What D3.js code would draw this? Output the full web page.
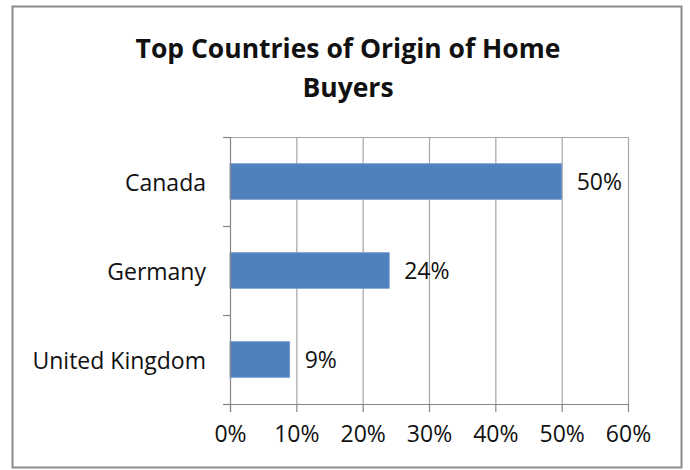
<!DOCTYPE html>
<html>
<head>
<meta charset="utf-8">
<script src="https://cdn.jsdelivr.net/npm/d3@7"></script>
<style>
  body { margin: 0; background: #fff; }
  text { font-family: "Open Sans", "Noto Sans", sans-serif; fill: #111; }
</style>
</head>
<body>
<div id="chart"></div>
<script>
// data
var countries = ['Canada', 'Germany', 'United Kingdom'];
var shares = [0.50, 0.24, 0.09];
var xTicks = [0, 0.1, 0.2, 0.3, 0.4, 0.5, 0.6];
var titleLines = ['Top Countries of Origin of Home', 'Buyers'];

var width = 690, height = 470;
var plot = { left: 230, right: 628, top: 137, bottom: 404 };

var svg = d3.select('#chart')
  .append('svg')
  .attr('width', width)
  .attr('height', height);

// outer frame
svg.append('rect')
  .attr('x', 12.5).attr('y', 6.5)
  .attr('width', 669).attr('height', 461)
  .attr('fill', '#fff')
  .attr('stroke', '#8c8c8c')
  .attr('stroke-width', 2);

// title
svg.append('g').selectAll('text')
  .data(titleLines)
  .enter().append('text')
  .attr('x', 348)
  .attr('y', function(d, i) { return 58 + i * 39; })
  .attr('text-anchor', 'middle')
  .style('font-weight', 'bold')
  .style('font-size', '26.5px')
  .text(function(d) { return d; });

var x = d3.scaleLinear().domain([0, 0.6]).range([plot.left, plot.right]);
var y = d3.scaleBand().domain(countries).range([plot.top, plot.bottom])
  .paddingInner(0.6).paddingOuter(0.3);

// vertical gridlines
svg.append('g').selectAll('line')
  .data(xTicks.slice(1))
  .enter().append('line')
  .attr('x1', function(d) { return x(d) + 0.5; })
  .attr('x2', function(d) { return x(d) + 0.5; })
  .attr('y1', plot.top)
  .attr('y2', plot.bottom)
  .attr('stroke', '#a6a6a6')
  .attr('stroke-width', 1.2);

// top edge of plot area
svg.append('line')
  .attr('x1', plot.left - 7).attr('x2', plot.right)
  .attr('y1', plot.top + 0.5).attr('y2', plot.top + 0.5)
  .attr('stroke', '#a6a6a6')
  .attr('stroke-width', 1.2);

// bars
svg.append('g').selectAll('rect')
  .data(countries)
  .enter().append('rect')
  .attr('x', x(0))
  .attr('y', function(d) { return y(d); })
  .attr('width', function(d, i) { return x(shares[i]) - x(0); })
  .attr('height', y.bandwidth())
  .attr('fill', '#4f81bd')
  .attr('stroke', '#6f98cc')
  .attr('stroke-width', 0.8);

// value labels
svg.append('g').selectAll('text')
  .data(countries)
  .enter().append('text')
  .attr('x', function(d, i) { return x(shares[i]) + 15; })
  .attr('y', function(d) { return y(d) + y.bandwidth() / 2; })
  .attr('dy', '0.36em')
  .style('font-size', '23px')
  .text(function(d, i) { return Math.round(shares[i] * 100) + '%'; });

// bottom axis
var xAxis = d3.axisBottom(x)
  .tickValues(xTicks)
  .tickSize(8)
  .tickPadding(14)
  .tickFormat(d3.format('.0%'));

var gx = svg.append('g')
  .attr('transform', 'translate(0,' + plot.bottom + ')')
  .call(xAxis);
gx.select('.domain').attr('d', 'M' + (plot.left - 7) + ',0.5H' + plot.right);
gx.selectAll('path, line').attr('stroke', '#868686').attr('stroke-width', 1.2);
gx.selectAll('text').style('font-size', '23px').attr('fill', '#111')
  .attr('font-family', null);

// left category axis line and boundary ticks
var step = y.step();
var bounds = [plot.top].concat(countries.map(function(d) {
  return y(d) - y.paddingInner() * step / 2 + step;
}));
svg.append('line')
  .attr('x1', plot.left + 0.5).attr('x2', plot.left + 0.5)
  .attr('y1', plot.top).attr('y2', plot.bottom + 8)
  .attr('stroke', '#868686')
  .attr('stroke-width', 1.2);
svg.append('g').selectAll('line')
  .data(bounds)
  .enter().append('line')
  .attr('x1', plot.left - 7).attr('x2', plot.left)
  .attr('y1', function(d) { return Math.round(d) + 0.5; })
  .attr('y2', function(d) { return Math.round(d) + 0.5; })
  .attr('stroke', '#868686')
  .attr('stroke-width', 1.2);

// category labels
svg.append('g').selectAll('text')
  .data(countries)
  .enter().append('text')
  .attr('x', plot.left - 24)
  .attr('y', function(d) { return y(d) + y.bandwidth() / 2 + 1; })
  .attr('dy', '0.36em')
  .attr('text-anchor', 'end')
  .style('font-size', '23px')
  .text(function(d) { return d; });
</script>
</body>
</html>
